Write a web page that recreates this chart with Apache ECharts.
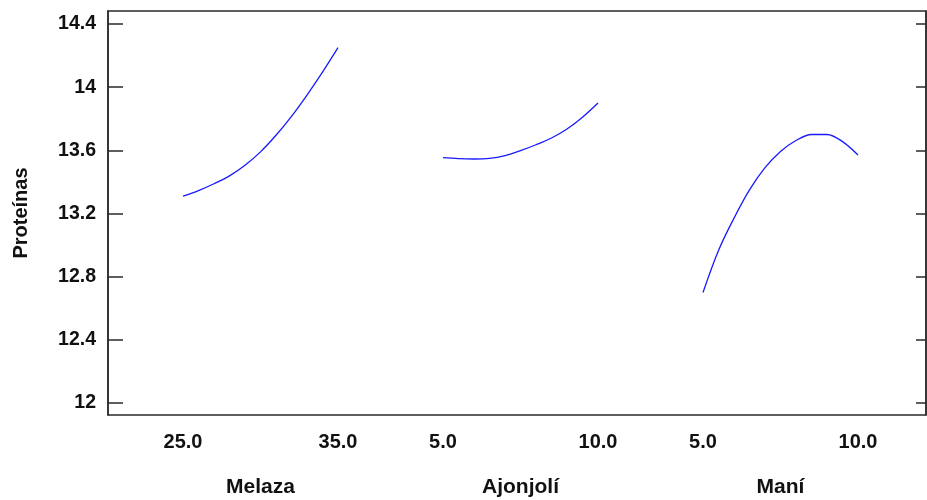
<!DOCTYPE html>
<html>
<head>
<meta charset="utf-8">
<script src="https://cdn.jsdelivr.net/npm/echarts@6/dist/echarts.min.js"></script>
<style>
  html, body { margin: 0; padding: 0; background: #fff; }
  #chart { width: 927px; height: 500px; }
</style>
</head>
<body>
<div id="chart"></div>
<script>
// Main effects on protein content (Proteínas)
const yTicks = [12, 12.4, 12.8, 13.2, 13.6, 14, 14.4];

const melazaX = [25, 26, 27, 28, 29, 30, 31, 32, 33, 34, 35];
const melazaY = [13.31, 13.345, 13.388, 13.438, 13.505, 13.59, 13.695, 13.815, 13.95, 14.095, 14.25];

const ajonjoliX = [5, 5.5, 6, 6.5, 7, 7.5, 8, 8.5, 9, 9.5, 10];
const ajonjoliY = [13.553, 13.547, 13.545, 13.549, 13.567, 13.598, 13.635, 13.678, 13.735, 13.81, 13.90];

const maniX = [5, 5.5, 6, 6.5, 7, 7.5, 8, 8.5, 9, 9.5, 10];
const maniY = [12.70, 12.966, 13.17, 13.349, 13.49, 13.593, 13.662, 13.70, 13.70, 13.655, 13.57];

const factors = [
  { name: 'Melaza', x: melazaX, y: melazaY, ticks: [25, 35], left: 183 },
  { name: 'Ajonjolí', x: ajonjoliX, y: ajonjoliY, ticks: [5, 10], left: 443 },
  { name: 'Maní', x: maniX, y: maniY, ticks: [5, 10], left: 703 }
];

const Y_MIN = 11.924, Y_MAX = 14.482;
const FONT = '"Liberation Sans", Arial, sans-serif';
const frameColor = '#2a2a2a';

const grids = [{
  left: 108, right: 1, top: 11, bottom: 85, show: true,
  borderColor: frameColor, borderWidth: 1.5, outerBoundsMode: 'none', containLabel: false
}];
const xAxes = [{ gridIndex: 0, type: 'value', min: 0, max: 1, show: false }];
const yAxes = [
  {
    gridIndex: 0, type: 'value', min: Y_MIN, max: Y_MAX, position: 'left',
    name: 'Proteínas', nameLocation: 'middle', nameGap: 77,
    nameTextStyle: { fontFamily: FONT, fontWeight: 'bold', fontSize: 20, color: '#111' },
    axisLine: { show: true, lineStyle: { color: frameColor, width: 1.5 } },
    axisTick: { show: true, inside: true, length: 15, customValues: yTicks, lineStyle: { color: frameColor, width: 1.5 } },
    axisLabel: { customValues: yTicks, margin: 12, fontFamily: FONT, fontWeight: 'bold', fontSize: 19.5, color: '#111' },
    splitLine: { show: false }
  },
  {
    gridIndex: 0, type: 'value', min: Y_MIN, max: Y_MAX, position: 'right',
    axisLine: { show: true, lineStyle: { color: frameColor, width: 1.5 } },
    axisTick: { show: true, inside: true, length: 10, customValues: yTicks, lineStyle: { color: frameColor, width: 1.5 } },
    axisLabel: { show: false },
    splitLine: { show: false }
  }
];
const series = [];

factors.forEach((f, i) => {
  const gi = i + 1;
  grids.push({ left: f.left, width: 155, top: 11, bottom: 85, outerBoundsMode: 'none', containLabel: false });
  xAxes.push({
    gridIndex: gi, type: 'value', min: f.ticks[0], max: f.ticks[1],
    name: f.name, nameLocation: 'middle', nameGap: 62,
    nameTextStyle: { fontFamily: FONT, fontWeight: 'bold', fontSize: 21, color: '#111' },
    axisLine: { show: false }, axisTick: { show: false }, splitLine: { show: false },
    axisLabel: {
      customValues: f.ticks, margin: 17, hideOverlap: false,
      fontFamily: FONT, fontWeight: 'bold', fontSize: 20, color: '#111',
      formatter: v => Number(v).toFixed(1)
    }
  });
  yAxes.push({ gridIndex: gi, type: 'value', min: Y_MIN, max: Y_MAX, show: false });
  series.push({
    type: 'line', xAxisIndex: gi, yAxisIndex: yAxes.length - 1,
    data: f.x.map((v, k) => [v, f.y[k]]),
    smooth: 0.35, showSymbol: false, silent: true,
    lineStyle: { color: '#1a1aff', width: 1.3 }
  });
});

const chart = echarts.init(document.getElementById('chart'), null, { renderer: 'canvas' });
chart.setOption({
  animation: false,
  backgroundColor: '#fff',
  grid: grids,
  xAxis: xAxes,
  yAxis: yAxes,
  series: series
});
</script>
</body>
</html>
